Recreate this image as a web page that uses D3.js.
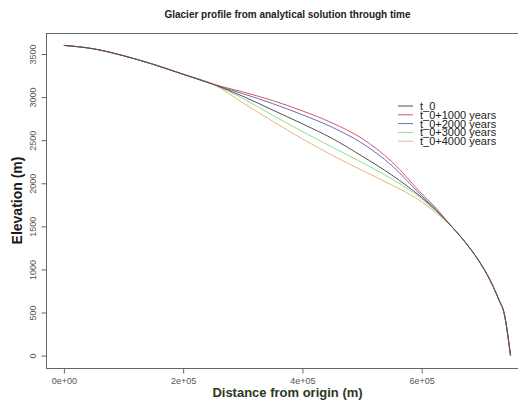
<!DOCTYPE html>
<html>
<head>
<meta charset="utf-8">
<script src="https://cdn.jsdelivr.net/npm/d3@7"></script>
<style>
    body { margin: 0; background: #fff; }
    svg { font-family: "Liberation Sans", Arial, sans-serif; }
</style>
</head>
<body>
<div id="chart"></div>
<script>
const distance = [0, 50000, 100000, 150000, 200000, 250000, 300000, 350000, 400000, 450000,
    500000, 550000, 600000, 625000, 650000, 660000, 675000, 690000, 700000, 710000,
    720000, 730000, 738000, 749000];

// elevation (m) of each profile along the distance grid
const elevT0 = [3600, 3560, 3480, 3380, 3265, 3150, 3010, 2850, 2690, 2520,
    2315, 2095, 1835, 1680, 1500, 1424, 1299, 1160, 1055, 938,
    800, 640, 500, 0];
const elev1000 = [3600, 3560, 3480, 3380, 3265, 3150, 3060, 2960, 2840, 2700,
    2520, 2250, 1880, 1705, 1500, 1424, 1299, 1160, 1055, 938,
    800, 640, 500, 0];
const elev2000 = [3600, 3560, 3480, 3380, 3265, 3150, 3040, 2925, 2795, 2650,
    2465, 2205, 1855, 1690, 1500, 1424, 1299, 1160, 1055, 938,
    800, 640, 500, 0];
const elev3000 = [3600, 3560, 3480, 3380, 3265, 3150, 2985, 2790, 2600, 2420,
    2240, 2050, 1820, 1670, 1500, 1424, 1299, 1160, 1055, 938,
    800, 640, 500, 0];
const elev4000 = [3600, 3560, 3480, 3380, 3265, 3150, 2935, 2720, 2515, 2325,
    2150, 1980, 1785, 1650, 1500, 1424, 1299, 1160, 1055, 938,
    800, 640, 500, 0];

const seriesNames = ['t_0', 't_0+1000 years', 't_0+2000 years', 't_0+3000 years', 't_0+4000 years'];
const seriesValues = [elevT0, elev1000, elev2000, elev3000, elev4000];
const seriesColors = ['#505050', '#d45a6c', '#6b6bb8', '#8fe08f', '#e8b67c'];

const xTicks = [0, 200000, 400000, 600000];
const xTickLabels = ['0e+00', '2e+05', '4e+05', '6e+05'];
const yTicks = [0, 500, 1000, 1500, 2000, 2500, 3000, 3500];

const width = 518;
const height = 405;
const plot = {left: 46, right: 529, top: 33, bottom: 368};

const svg = d3.select('#chart').append('svg')
    .attr('width', width)
    .attr('height', height);

// R style axes: 4% padding around the data range
const x = d3.scaleLinear()
    .domain([-30000, 780000])
    .range([plot.left, plot.right]);

const y = d3.scaleLinear()
    .domain([-144, 3744])
    .range([plot.bottom, plot.top]);

const line = d3.line()
    .x((d, i) => x(distance[i]))
    .y(d => y(d))
    .curve(d3.curveMonotoneX);

// draw profiles, last first so t_0 sits on top like the original
svg.append('g')
    .attr('fill', 'none')
    .attr('stroke-width', 1)
    .selectAll('path')
    .data(seriesValues.map((v, i) => ({values: v, color: seriesColors[i]})).reverse())
    .join('path')
        .attr('stroke', d => d.color)
        .attr('d', d => line(d.values));

// box
svg.append('rect')
    .attr('x', plot.left + 0.5)
    .attr('y', plot.top + 0.5)
    .attr('width', plot.right - plot.left)
    .attr('height', plot.bottom - plot.top)
    .attr('fill', 'none')
    .attr('stroke', '#666');

svg.append('g').call(xAxis);
svg.append('g').call(yAxis);

function xAxis(g) {
    g.attr('transform', `translate(0, ${plot.bottom + 0.5})`)
        .call(d3.axisBottom(x).tickValues(xTicks).tickSize(5).tickPadding(4)
            .tickFormat((d, i) => xTickLabels[i]));
    g.select('.domain')
        .attr('d', `M${x(xTicks[0])},0H${x(xTicks[xTicks.length - 1])}`)
        .attr('stroke', '#666');
    g.selectAll('.tick line').attr('stroke', '#666');
    g.selectAll('.tick text')
        .attr('fill', '#555')
        .attr('font-size', 9)
        .attr('font-family', '"Liberation Sans", Arial, sans-serif');
}

function yAxis(g) {
    g.attr('transform', `translate(${plot.left + 0.5}, 0)`)
        .call(d3.axisLeft(y).tickValues(yTicks).tickSize(5).tickPadding(4)
            .tickFormat(d3.format('d')));
    g.select('.domain')
        .attr('d', `M0,${y(yTicks[0])}V${y(yTicks[yTicks.length - 1])}`)
        .attr('stroke', '#666');
    g.selectAll('.tick line').attr('stroke', '#666');
    // tick labels parallel to the axis
    g.selectAll('.tick text')
        .attr('fill', '#555')
        .attr('font-size', 9)
        .attr('font-family', '"Liberation Sans", Arial, sans-serif')
        .attr('text-anchor', 'middle')
        .attr('x', 0)
        .attr('dy', 0)
        .attr('transform', 'translate(-11, 0) rotate(-90)');
}

// legend
const legend = svg.append('g')
    .attr('transform', 'translate(398, 106)');

legend.selectAll('line')
    .data(seriesNames)
    .join('line')
        .attr('x1', 0)
        .attr('x2', 15)
        .attr('y1', (d, i) => i * 8.8)
        .attr('y2', (d, i) => i * 8.8)
        .attr('stroke', (d, i) => seriesColors[i]);

legend.selectAll('text')
    .data(seriesNames)
    .join('text')
        .attr('x', 22)
        .attr('y', (d, i) => i * 8.8 + 4)
        .attr('font-size', 11)
        .attr('fill', '#222')
        .text(d => d);

// titles
svg.append('text')
    .attr('x', (plot.left + plot.right) / 2)
    .attr('y', 18)
    .attr('text-anchor', 'middle')
    .attr('font-size', 10)
    .attr('font-weight', 'bold')
    .attr('fill', '#222')
    .text('Glacier profile from analytical solution through time');

svg.append('text')
    .attr('x', (plot.left + plot.right) / 2)
    .attr('y', 397)
    .attr('text-anchor', 'middle')
    .attr('font-size', 13)
    .attr('font-weight', 'bold')
    .attr('fill', '#2b3822')
    .text('Distance from origin (m)');

svg.append('text')
    .attr('transform', `translate(22, ${(plot.top + plot.bottom) / 2}) rotate(-90)`)
    .attr('text-anchor', 'middle')
    .attr('font-size', 14)
    .attr('font-weight', 'bold')
    .attr('fill', '#1a1a1a')
    .text('Elevation (m)');
</script>
</body>
</html>
